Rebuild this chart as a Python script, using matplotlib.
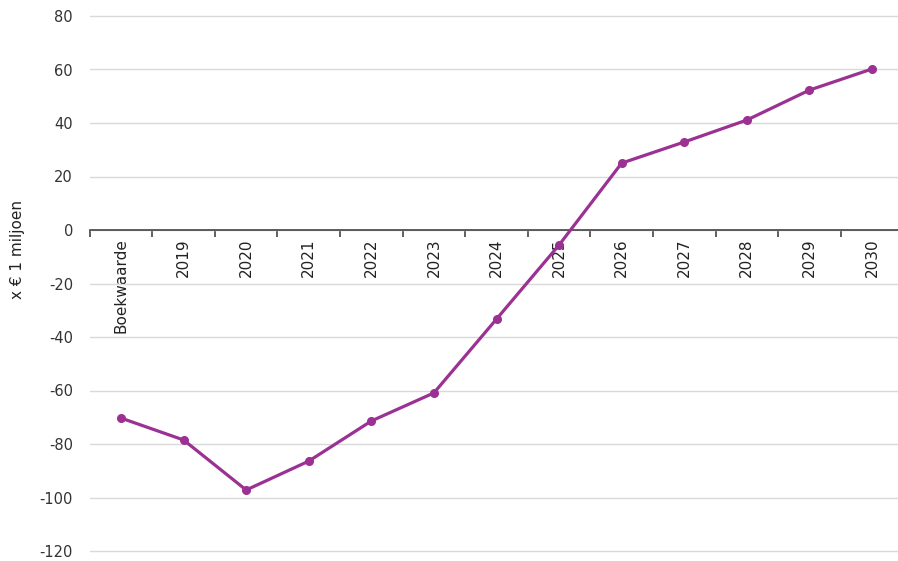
import matplotlib.pyplot as plt
import numpy as np
from matplotlib.ticker import FixedLocator

categories = ["Boekwaarde", "2019", "2020", "2021", "2022", "2023", "2024",
              "2025", "2026", "2027", "2028", "2029", "2030"]
values = [-70.3, -78.5, -97.2, -86.4, -71.4, -60.9, -33.3,
          -5.6, 25.0, 32.9, 41.1, 52.3, 60.2]
y_ticks = [-120, -100, -80, -60, -40, -20, 0, 20, 40, 60, 80]

plt.rcParams["font.family"] = "DejaVu Sans"

# 80 -> 16 px, -120 -> 551 px; one extra unit of room at each end
px = 535 / 200
fig = plt.figure(figsize=(8.98, 5.61), dpi=100)
ax = fig.add_axes([89.7 / 898, (10 - px) / 561, 813.6 / 898, (535 + 2 * px) / 561])

x = np.arange(len(categories))
ax.plot(x, values, color="#9b3192", linewidth=2.3, marker="o",
        markersize=5.5, zorder=3, solid_capstyle="round")

ax.set_xlim(-0.5, len(categories) - 0.5)
ax.set_ylim(-121, 81)
ax.set_yticks(y_ticks)
ax.set_yticklabels([str(v) for v in y_ticks], fontsize=10.5, color="#333333")
ax.tick_params(axis="y", length=0, pad=12)
ax.grid(axis="y", color="#d9d9d9", linewidth=1)
ax.set_axisbelow(True)

for side in ["top", "right", "left"]:
    ax.spines[side].set_visible(False)
ax.spines["bottom"].set_position(("data", 0))
ax.spines["bottom"].set_color("#444444")
ax.spines["bottom"].set_linewidth(1.2)
ax.spines["bottom"].set_zorder(2)

# category labels centred, tick marks on the boundaries
ax.set_xticks(x)
ax.set_xticklabels(categories, rotation=90, fontsize=11, color="#222222",
                   va="top", ha="center")
ax.tick_params(axis="x", which="major", length=0, pad=6)
ax.xaxis.set_minor_locator(FixedLocator(np.arange(-0.5, len(categories), 1.0)))
ax.tick_params(axis="x", which="minor", length=5, width=1.2,
               color="#444444", direction="out")

fig.text(18 / 898, 1 - 250 / 561, "x € 1 miljoen", rotation=90,
         fontsize=11, color="#222222", ha="center", va="center")

fig.savefig("out.png", dpi=100)
